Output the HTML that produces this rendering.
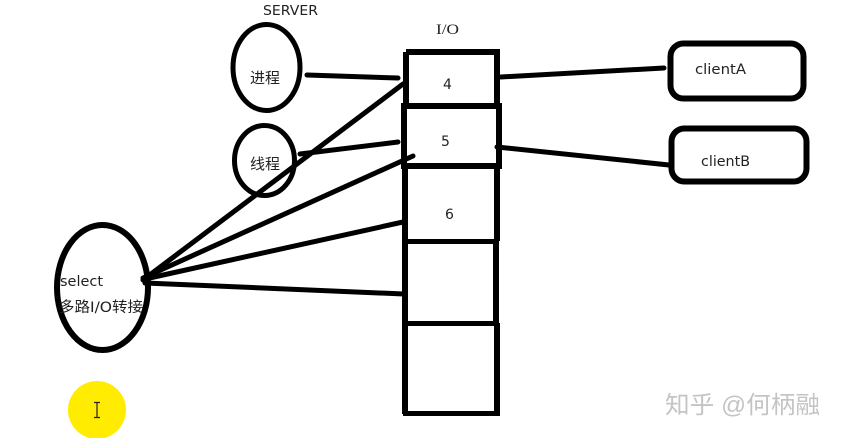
<!DOCTYPE html>
<html>
<head>
<meta charset="utf-8">
<style>
html,body{margin:0;padding:0;background:#fff;}
#c{position:relative;width:841px;height:438px;overflow:hidden;background:#fff;}
svg{position:absolute;left:0;top:0;}
text{font-family:"DejaVu Sans","Noto Sans CJK SC",sans-serif;fill:#222;}
</style>
</head>
<body>
<div id="c">
<svg width="841" height="438" viewBox="0 0 841 438" xmlns="http://www.w3.org/2000/svg">
<g fill="none" stroke="#000">
<ellipse cx="266.500" cy="67.500" rx="33.500" ry="43" stroke-width="5"/>
<ellipse cx="264.500" cy="160.500" rx="30" ry="35" stroke-width="5"/>
<ellipse cx="102.500" cy="287.500" rx="45.500" ry="62.500" stroke-width="6"/>
<path d="M406 52H497V106M406 52V106" stroke-width="6"/>
<path d="M404 106H499V166H404Z" stroke-width="6"/>
<path d="M405 166V241M497 166V241" stroke-width="6"/>
<path d="M404 241.500H496" stroke-width="5"/>
<path d="M405 241V323M496 241V323" stroke-width="6"/>
<path d="M404 323.500H497" stroke-width="5"/>
<path d="M405 323V414M497 323V414" stroke-width="6"/>
<path d="M403 413.500H500" stroke-width="5"/>
<rect x="670.500" y="43.500" width="133" height="55" rx="13" stroke-width="6"/>
<rect x="671.500" y="128.500" width="135" height="53" rx="13" stroke-width="6"/>
<g stroke-linecap="round" stroke-width="5">
<path d="M307 75L398 78"/>
<path d="M300 154L398 142"/>
<path d="M501 77L664 68"/>
<path d="M497 147L669 165"/>
<path d="M143 280L403 84"/>
<path d="M143 278L413 156"/>
<path d="M145 279L403 222"/>
<path d="M145 283L404 294"/>
</g>
</g>
<text x="263" y="15" font-size="13" textLength="55" lengthAdjust="spacingAndGlyphs">SERVER</text>
<text x="436" y="34" font-size="15" textLength="23" lengthAdjust="spacingAndGlyphs" style="font-family:'Liberation Serif',serif">I/O</text>
<text x="250" y="83" font-size="15">进程</text>
<text x="250" y="169" font-size="15">线程</text>
<text x="443" y="89" font-size="14">4</text>
<text x="441" y="146" font-size="14">5</text>
<text x="445" y="219" font-size="14">6</text>
<text x="695" y="74" font-size="14" textLength="51" lengthAdjust="spacingAndGlyphs">clientA</text>
<text x="701" y="166" font-size="14" textLength="49" lengthAdjust="spacingAndGlyphs">clientB</text>
<text x="60" y="286" font-size="14" textLength="43" lengthAdjust="spacingAndGlyphs">select</text>
<text x="59" y="312" font-size="14.500" textLength="84" lengthAdjust="spacingAndGlyphs">多路I/O转接</text>
<circle cx="97" cy="410" r="29" fill="#ffec00"/>
<path d="M94 402.500H100M97 402.500V417.500M94 417.500H100" fill="none" stroke="#222" stroke-width="1.200"/>
<text x="665" y="413" font-size="24" textLength="155" lengthAdjust="spacingAndGlyphs" style="fill:#c4c4c4;font-family:'Liberation Sans','Noto Sans CJK SC',sans-serif">知乎 @何柄融</text>
</svg>
</div>
</body>
</html>
